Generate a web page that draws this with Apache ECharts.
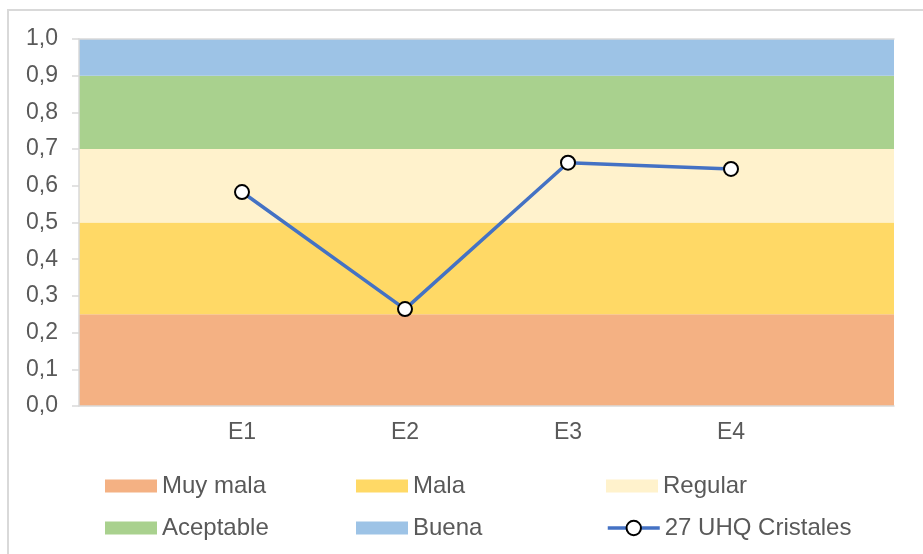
<!DOCTYPE html>
<html>
<head>
<meta charset="utf-8">
<script src="https://cdn.jsdelivr.net/npm/echarts@6/dist/echarts.min.js"></script>
<style>
  html, body { margin: 0; padding: 0; background: #ffffff; }
  #chart { width: 923px; height: 554px; }
</style>
</head>
<body>
<div id="chart"></div>
<script>
// Evaluation stages on the category axis
const categories = ['E1', 'E2', 'E3', 'E4'];
// Measured index for the site
const seriesName = '27 UHQ Cristales';
const seriesValues = [0.583, 0.264, 0.663, 0.646];
// Quality bands: names, lower/upper limits, fill colours
const bandNames = ['Muy mala', 'Mala', 'Regular', 'Aceptable', 'Buena'];
const bandLimits = [0, 0.25, 0.5, 0.7, 0.9, 1.0];
const bandColors = ['#F4B183', '#FFD966', '#FFF2CC', '#A9D18E', '#9DC3E6'];
// Y-axis ticks
const yTicks = [0, 0.1, 0.2, 0.3, 0.4, 0.5, 0.6, 0.7, 0.8, 0.9, 1.0];

const FONT = "'Liberation Sans', Arial, sans-serif";
const TEXT = '#595959';
const GRIDLINE = '#d9d9d9';

// One empty slot on either side so the bands span the full plot width
const axisCategories = [''].concat(categories, ['']);

const bandSeries = bandNames.map((name, i) => ({
  name: name,
  type: 'line',
  stack: 'bands',
  symbol: 'none',
  silent: true,
  lineStyle: { width: 0 },
  areaStyle: { color: bandColors[i], opacity: 1 },
  itemStyle: { color: bandColors[i] },
  data: axisCategories.map(() => +(bandLimits[i + 1] - bandLimits[i]).toFixed(4)),
  z: 1
}));

const lineSeries = {
  name: seriesName,
  type: 'line',
  data: [null].concat(seriesValues, [null]),
  symbol: 'circle',
  symbolSize: 14,
  lineStyle: { color: '#4472C4', width: 3.5 },
  itemStyle: { color: '#ffffff', borderColor: '#000000', borderWidth: 2 },
  z: 5
};

// Legend laid out as a 3-column grid, one legend component per cell
const legendOrder = bandNames.concat([seriesName]);
const colX = [105, 356, 606];
const rowY = [474, 516];
const legends = legendOrder.map((name, i) => {
  const isBand = i < bandNames.length;
  return {
    show: true,
    left: colX[i % 3],
    top: rowY[Math.floor(i / 3)],
    itemWidth: 52,
    itemHeight: isBand ? 13 : 18,
    itemGap: 0,
    padding: 0,
    selectedMode: false,
    lineStyle: { width: 3.5 },
    itemStyle: isBand ? {} : { borderWidth: 2 },
    textStyle: { color: TEXT, fontSize: 24, fontFamily: FONT },
    data: [isBand ? { name: name, icon: 'rect' } : { name: name }]
  };
});

const chart = echarts.init(document.getElementById('chart'), null, { renderer: 'canvas' });
chart.setOption({
  animation: false,
  backgroundColor: '#ffffff',
  textStyle: { fontFamily: FONT },
  graphic: [{
    type: 'rect',
    shape: { x: 8, y: 10, width: 1000, height: 700 },
    style: { fill: 'none', stroke: GRIDLINE, lineWidth: 2 },
    silent: true,
    z: -10
  }],
  grid: { left: 79, right: 29, top: 39, bottom: 148 },
  legend: legends,
  xAxis: [{
    type: 'category',
    data: axisCategories,
    boundaryGap: false,
    axisLine: { show: true, lineStyle: { color: GRIDLINE, width: 1.5 } },
    axisTick: { show: false },
    axisLabel: { color: TEXT, fontSize: 23, fontFamily: FONT, margin: 15, interval: 0 },
    splitLine: { show: false },
    z: 10
  }, {
    // top edge line of the plot area (gridline at 1,0)
    type: 'category',
    position: 'top',
    data: axisCategories,
    boundaryGap: false,
    axisLine: { show: true, lineStyle: { color: GRIDLINE, width: 1.5 } },
    axisTick: { show: false },
    axisLabel: { show: false },
    splitLine: { show: false },
    z: 10
  }],
  yAxis: {
    type: 'value',
    min: yTicks[0],
    max: yTicks[yTicks.length - 1],
    interval: 0.1,
    axisLine: { show: true, lineStyle: { color: GRIDLINE, width: 1.5 } },
    axisTick: { show: true, length: 7, lineStyle: { color: GRIDLINE, width: 1.5 } },
    axisLabel: {
      color: TEXT, fontSize: 23, fontFamily: FONT, margin: 21,
      formatter: v => v.toFixed(1).replace('.', ',')
    },
    splitLine: { show: false },
    z: 10
  },
  series: bandSeries.concat([lineSeries])
});
</script>
</body>
</html>
